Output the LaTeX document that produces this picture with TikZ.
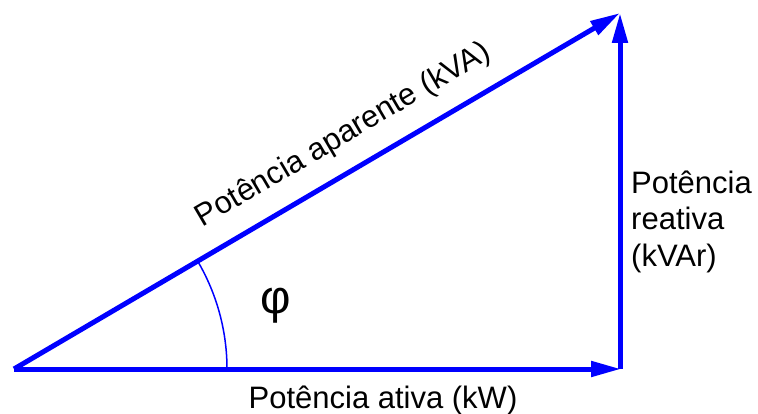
\documentclass[tikz,border=0pt]{standalone}
\usepackage{fontspec}
\setmainfont{Liberation Sans}
\usetikzlibrary{arrows.meta}
\begin{document}
\begin{tikzpicture}[x=1pt,y=-1pt,
  vec/.style={draw=blue, line width=5pt, -{Triangle[length=30pt,width=15pt]}},
  anglearc/.style={draw=blue, line width=1.5pt},
  lbl/.style={font=\fontsize{31}{36.5}\selectfont, text=black, inner sep=0pt}]
\useasboundingbox (0,0) rectangle (758,414);
\coordinate (O) at (14,369);
\coordinate (A) at (621,369);
\coordinate (C) at (620,369);
\coordinate (B) at (620,13);
\draw[vec] (O) -- (A);
\draw[vec] (C) -- (B);
\draw[vec] (O) -- (B);
\draw[anglearc] (O) ++(213,0) arc[start angle=0,end angle=30.43,radius=213pt];
\node[lbl, anchor=base] (kw) at (383,408) {Potência ativa (kW)};
\node[lbl, anchor=base west, align=left] (kvar) at (631,266) {Potência\\reativa\\(kVAr)};
\node[lbl, anchor=base, rotate=30.43] (kva) at (347.5,142.5) {Potência aparente (kVA)};
\node[lbl, font=\fontsize{47}{50}\selectfont] (phi) at (276,306) {φ};
\end{tikzpicture}
\end{document}
